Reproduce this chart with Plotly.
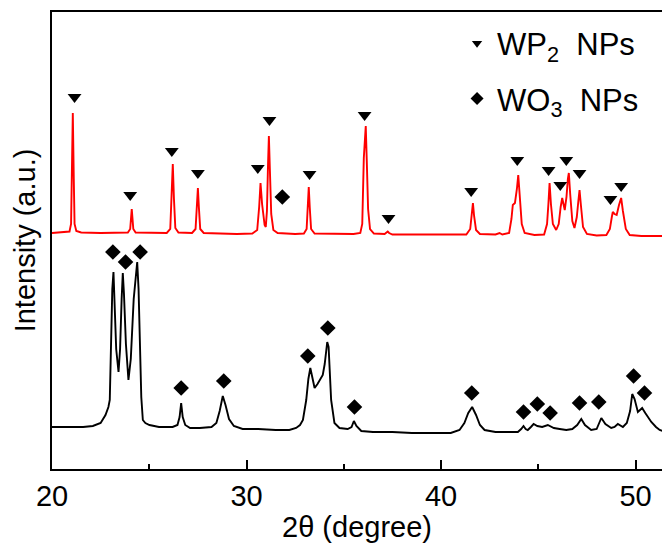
import plotly.graph_objects as go

# ---- WO3 NPs pattern (2theta, intensity a.u.) ----
wo3_2theta = [20.0, 20.8, 21.6, 22.1, 22.5, 22.75, 22.9, 22.97, 23.04, 23.1, 23.16, 23.22, 23.3, 23.42,
              23.5, 23.58, 23.64, 23.7, 23.8, 23.93, 24.05, 24.2, 24.32, 24.38, 24.45, 24.5, 24.59,
              24.67, 24.8, 25.01, 25.5, 26.2, 26.45, 26.56, 26.64, 26.72, 26.85, 27.1, 27.6, 28.2,
              28.45, 28.62, 28.78, 28.92, 29.1, 29.35, 29.8, 30.6, 31.5, 32.2, 32.55, 32.75, 32.9,
              33.07, 33.18, 33.28, 33.38, 33.5, 33.65, 33.8, 33.92, 34.02, 34.1, 34.15, 34.22, 34.35,
              34.52, 34.78, 35.2, 35.4, 35.52, 35.65, 35.9, 36.5, 37.5, 38.5, 39.5, 40.5, 40.95, 41.2,
              41.4, 41.6, 41.8, 42.0, 42.24, 42.8, 43.5, 43.95, 44.12, 44.24, 44.35, 44.46, 44.62,
              44.76, 44.95, 45.2, 45.49, 45.8, 46.1, 46.44, 46.75, 47.0, 47.21, 47.4, 47.72, 48.0,
              48.24, 48.45, 48.75, 48.92, 49.09, 49.35, 49.55, 49.72, 49.83, 49.95, 50.12, 50.25,
              50.34, 50.5, 50.81, 51.05, 51.24, 51.4]
wo3_int = [42, 42, 42, 43, 46, 54, 62, 69, 129, 180, 197, 170, 120, 97,
           120, 170, 196, 175, 125, 89, 110, 170, 200, 207, 180, 129, 72,
           49, 46, 44, 42, 42, 44, 52, 66, 52, 44, 41, 41, 42,
           46, 58, 73, 64, 50, 43, 40, 40, 39, 39, 41, 44, 49,
           69, 90, 101, 92, 81, 85, 90, 94, 105, 118, 127, 122, 69,
           46, 41, 40, 42, 48, 43, 38, 37, 37, 36, 36, 36, 39, 46,
           56, 62, 54, 44, 39, 37, 37, 37, 40, 43, 40, 39, 42,
           45, 43, 42, 44, 41, 40, 39, 40, 44, 50, 44, 39, 40,
           51, 45, 41, 42, 45, 42, 46, 58, 75, 70, 57, 59,
           61, 56, 47, 42, 39, 38]

# ---- WP2 NPs pattern (2theta, intensity a.u., before vertical offset) ----
wp2_2theta = [20.0, 20.6, 20.9, 20.98, 21.02, 21.07, 21.12, 21.16, 21.25, 21.5, 22.5, 23.5, 23.9, 24.02,
              24.06, 24.1, 24.14, 24.18, 24.3, 25.0, 25.9, 26.08, 26.15, 26.21, 26.27, 26.34, 26.5,
              27.2, 27.38, 27.45, 27.5, 27.55, 27.62, 27.8, 28.5, 29.5, 30.3, 30.55, 30.65, 30.72,
              30.8, 30.93, 30.99, 31.05, 31.1, 31.15, 31.2, 31.27, 31.38, 31.6, 32.5, 32.95, 33.09,
              33.15, 33.2, 33.25, 33.32, 33.5, 34.5, 35.5, 35.85, 35.95, 36.03, 36.09, 36.13, 36.18,
              36.25, 36.35, 36.55, 37.1, 37.2, 37.26, 37.33, 37.5, 38.5, 40.0, 41.3, 41.5, 41.58,
              41.64, 41.7, 41.8, 42.0, 42.8, 43.01, 43.15, 43.5, 43.62, 43.69, 43.8, 43.9, 43.97,
              44.04, 44.15, 44.3, 44.8, 45.3, 45.45, 45.52, 45.58, 45.65, 45.75, 45.92, 46.05, 46.15,
              46.23, 46.36, 46.45, 46.52, 46.57, 46.64, 46.75, 46.86, 46.98, 47.06, 47.12, 47.2, 47.3,
              47.5, 48.0, 48.5, 48.68, 48.78, 48.83, 48.92, 49.03, 49.15, 49.26, 49.35, 49.5, 49.7,
              50.3, 51.4]
wp2_int = [36, 36.5, 37.5, 45, 90, 156, 90, 45, 38, 36.5, 36, 36, 36.5, 40,
           50, 60, 50, 40, 36.5, 36, 36, 40, 70, 105, 70, 41, 36.5,
           36, 40, 62, 81, 62, 40, 36, 35.5, 35, 35.5, 39, 62, 86,
           65, 44, 42, 58, 100, 133, 100, 55, 39, 36, 35, 35.5, 40,
           62, 82, 62, 40, 35.5, 35, 35, 36, 45, 111, 125, 143, 110,
           60, 40, 35.5, 35, 36.5, 37.5, 36, 34.5, 34.5, 34.5, 34.5, 40, 53,
           66, 53, 39, 35, 34.5, 36, 34.5, 36, 50, 64, 66, 80, 94,
           75, 45, 36, 34, 34.5, 45, 65, 86, 65, 45, 39, 45, 62,
           71, 59, 72, 90, 96, 75, 48, 41, 52, 68, 79, 62, 42,
           35, 33.5, 34, 40, 52, 57, 55, 54, 64, 71, 58, 40, 34,
           33, 33]
WP2_OFFSET = 200

# ---- phase markers ----
wp2_mark_2theta = [21.16, 24.02, 26.16, 27.50, 30.58, 31.18, 33.24, 36.07, 37.30, 41.55,
                   43.92, 45.53, 46.13, 46.44, 47.12, 48.71, 49.26]
wp2_mark_int = [172, 74, 118, 96, 101, 149, 95, 154, 51, 78,
                109, 99, 84, 109, 96, 70, 83]

wo3_mark_2theta = [31.84, 23.13, 23.78, 24.53, 26.64, 28.83, 33.15, 34.18, 35.55, 41.58,
                   44.24, 44.95, 45.61, 47.12, 48.11, 49.90, 50.46]
wo3_mark_int = [272, 217, 207, 217, 81, 88, 113, 141, 62, 76,
                57, 65, 56, 66, 67, 93, 76]

FONT = "Arial, Liberation Sans, sans-serif"

fig = go.Figure()

fig.add_trace(go.Scatter(x=wo3_2theta, y=wo3_int, mode="lines",
                         line=dict(color="black", width=1.9), showlegend=False))
fig.add_trace(go.Scatter(x=wp2_2theta, y=[v + WP2_OFFSET for v in wp2_int], mode="lines",
                         line=dict(color="#ff0000", width=1.9), showlegend=False))

fig.add_trace(go.Scatter(x=wp2_mark_2theta, y=[v + WP2_OFFSET for v in wp2_mark_int],
                         mode="markers", showlegend=False,
                         marker=dict(symbol="triangle-down", size=12, color="black")))
fig.add_trace(go.Scatter(x=wo3_mark_2theta, y=wo3_mark_int,
                         mode="markers", showlegend=False,
                         marker=dict(symbol="diamond", size=12, color="black")))

# legend entries with the smaller key symbols
fig.add_trace(go.Scatter(x=[None], y=[None], mode="markers",
                         name="WP<sub>2</sub>&nbsp; NPs", legendgroup="a",
                         marker=dict(symbol="triangle-down", size=9, color="black")))
fig.add_trace(go.Scatter(x=[None], y=[None], mode="markers",
                         name="WO<sub>3</sub>&nbsp; NPs", legendgroup="b",
                         marker=dict(symbol="diamond", size=10, color="black")))

fig.update_layout(
    width=662, height=543,
    margin=dict(l=52, r=0, t=12, b=74),
    paper_bgcolor="white", plot_bgcolor="white",
    font=dict(family=FONT, size=29, color="black"),
    legend=dict(x=0.664, y=0.99, xanchor="left", yanchor="top",
                bgcolor="rgba(0,0,0,0)", tracegroupgap=12,
                font=dict(family=FONT, size=31)),
    xaxis=dict(range=[20, 51.36], tick0=20, dtick=10, ticks="inside", ticklen=9,
               tickwidth=2, tickcolor="black", showline=True, linewidth=2, linecolor="black",
               mirror=True, showgrid=False, zeroline=False,
               minor=dict(dtick=5, ticks="inside", ticklen=5, tickwidth=2, tickcolor="black",
                          showgrid=False),
               title=dict(text="2θ (degree)", font=dict(size=29), standoff=0),
               tickfont=dict(size=29)),
    yaxis=dict(range=[0, 457], showticklabels=False, ticks="", showline=True, linewidth=2,
               linecolor="black", mirror=False, showgrid=False, zeroline=False,
               title=dict(text="Intensity (a.u.)", font=dict(size=29), standoff=6)),
)

fig.write_html("out.html")
